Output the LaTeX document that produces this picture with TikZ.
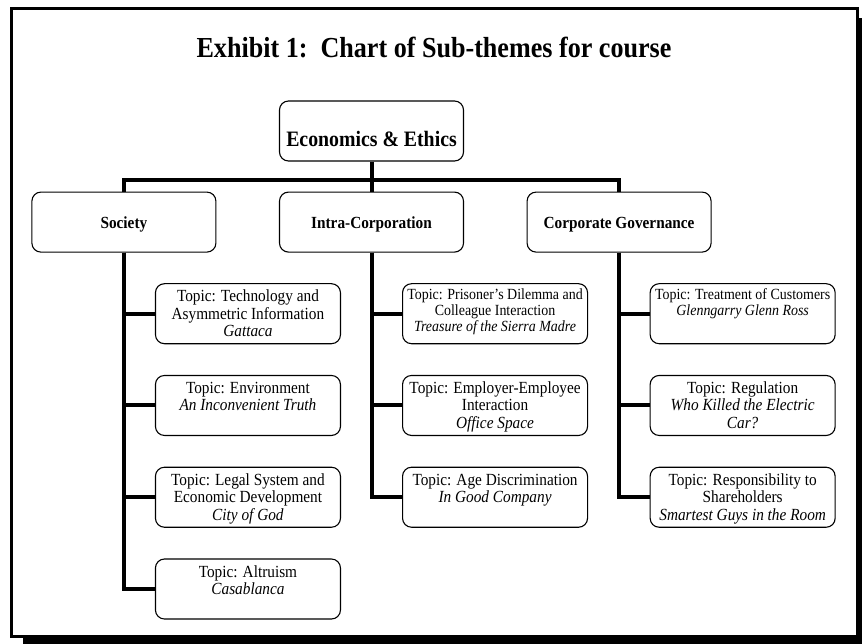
\documentclass[tikz,border=0pt]{standalone}
\usepackage{fontspec}
\setmainfont[FakeStretch=0.9]{Liberation Serif}
\usetikzlibrary{positioning}

\begin{document}
\begin{tikzpicture}[
    x=1pt, y=-1pt,
    frame/.style={draw, line width=3pt, fill=white},
    heading/.style={font=\fontsize{29}{32}\selectfont\bfseries, anchor=base},
    theme/.style={rectangle, draw, fill=white, line width=1.1pt, rounded corners=9pt, minimum width=184pt, minimum height=60pt, inner sep=0pt},
    main/.style={theme, font=\fontsize{22}{24}\selectfont\bfseries, text height=46pt, text depth=14pt},
    subtheme/.style={theme, font=\fontsize{17}{18}\selectfont\bfseries, text height=12pt, text depth=0pt},
    topic/.style={theme, minimum width=185pt, font=\fontsize{17}{17.5}\selectfont,
        execute at begin node={\begin{minipage}[c][60pt][t]{185pt}\centering\rule{0pt}{#1}},
        execute at end node={\end{minipage}}},
    topic/.default=18pt,
    small/.style={font=\fontsize{15.5}{16}\selectfont},
    link/.style={line width=4pt},
    node distance=30.67pt
]
\useasboundingbox (0,0) rectangle (862,644);
% frame with shadow
\fill (23,18) rectangle (862,644);
\draw[frame] (11.5,8.5) rectangle (857,636);

\node[heading] (title) at (434,58) {Exhibit 1:\ \ Chart of Sub-themes for course};

\node[main] (econ) at (371.5,131) {Economics \& Ethics};
\node[subtheme, below=30pt of econ] (intra) {Intra-Corporation};
\node[subtheme, left=62.5pt of intra] (society) {Society};
\node[subtheme, right=62.5pt of intra] (governance) {Corporate Governance};

% society topics
\node[topic, below right=30.5pt and 31pt of society.south, anchor=north west] (tech) {Topic: Technology and\\ Asymmetric Information\\ \textit{Gattaca}};
\node[topic, below=of tech] (environment) {Topic: Environment\\ \textit{An Inconvenient Truth}};
\node[topic, below=of environment] (legal) {Topic: Legal System and\\ Economic Development\\ \textit{City of God}};
\node[topic, below=of legal] (altruism) {Topic: Altruism\\ \textit{Casablanca}};

% intra-corporation topics
\node[topic=15.5pt, small, below right=30.5pt and 30.5pt of intra.south, anchor=north west] (prisoner) {Topic: Prisoner’s Dilemma and\\ Colleague Interaction\\ \textit{Treasure of the Sierra Madre}};
\node[topic, below=of prisoner] (employer) {Topic: Employer-Employee\\ Interaction\\ \textit{Office Space}};
\node[topic, below=of employer] (age) {Topic: Age Discrimination\\ \textit{In Good Company}};

% governance topics
\node[topic=15.5pt, small, below right=30.5pt and 30.5pt of governance.south, anchor=north west] (customers) {Topic: Treatment of Customers\\ \textit{Glenngarry Glenn Ross}};
\node[topic, below=of customers] (regulation) {Topic: Regulation\\ \textit{Who Killed the Electric}\\ \textit{Car?}};
\node[topic, below=of regulation] (shareholders) {Topic: Responsibility to\\ Shareholders\\ \textit{Smartest Guys in the Room}};

\coordinate (bus) at (371.5,180);
\draw[link] (econ) -- (bus);
\draw[link] (bus) -| (society);
\draw[link] (bus) -- (intra);
\draw[link] (bus) -| (governance);

\draw[link] (society) |- (tech);
\draw[link] (society) |- (environment);
\draw[link] (society) |- (legal);
\draw[link] (society) |- (altruism);

\draw[link] (intra) |- (prisoner);
\draw[link] (intra) |- (employer);
\draw[link] (intra) |- (age);

\draw[link] (governance) |- (customers);
\draw[link] (governance) |- (regulation);
\draw[link] (governance) |- (shareholders);
\end{tikzpicture}
\end{document}
